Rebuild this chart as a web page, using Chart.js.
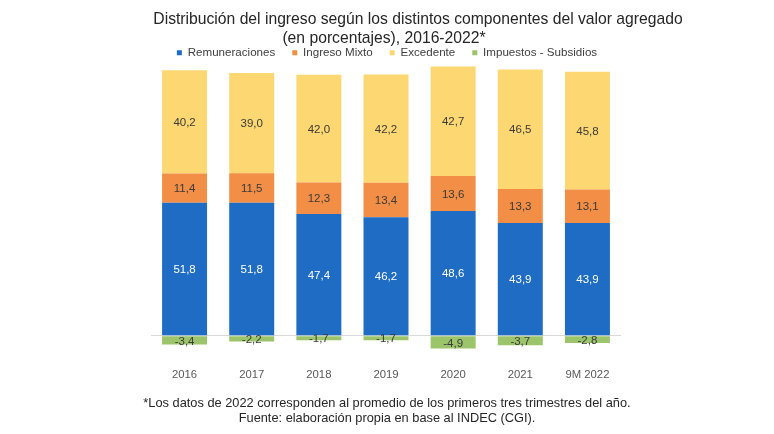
<!DOCTYPE html>
<html>
<head>
<meta charset="utf-8">
<script src="https://cdn.jsdelivr.net/npm/chart.js@4"></script>
<style>
  html, body { margin: 0; padding: 0; background: #fff; }
  #wrap { width: 774px; height: 434px; }
</style>
</head>
<body>
<div id="wrap"><canvas id="grafica"></canvas></div>
<script>
const anios = ["2016", "2017", "2018", "2019", "2020", "2021", "9M 2022"];
const remuneraciones = [51.8, 51.8, 47.4, 46.2, 48.6, 43.9, 43.9];
const ingresoMixto = [11.4, 11.5, 12.3, 13.4, 13.6, 13.3, 13.1];
const excedente = [40.2, 39.0, 42.0, 42.2, 42.7, 46.5, 45.8];
const impuestos = [-3.4, -2.2, -1.7, -1.7, -4.9, -3.7, -2.8];

const titulo1 = "Distribución del ingreso según los distintos componentes del valor agregado";
const titulo2 = "(en porcentajes), 2016-2022*";

const fuente = "'Liberation Sans', Arial, sans-serif";

// título (las dos líneas no están centradas igual en el original) y etiquetas de valor
const etiquetasValor = {
    id: "etiquetasValor",
    beforeUpdate(chart) {
        // la leyenda deja mucho aire debajo, recortarlo
        const leyenda = chart.legend;
        if (leyenda && !leyenda._ajustada) {
            const fitOriginal = leyenda.fit.bind(leyenda);
            leyenda.fit = function () {
                fitOriginal();
                this.height -= 5;
            };
            leyenda._ajustada = true;
        }
    },
    afterDraw(chart) {
        const ctx = chart.ctx;
        const mitad = chart.width / 2;
        ctx.save();
        ctx.fillStyle = "#262626";
        ctx.font = `15.7px ${fuente}`;
        ctx.textAlign = "center";
        ctx.textBaseline = "middle";
        ctx.fillText(titulo1, mitad + 31, 20);
        ctx.fillText(titulo2, mitad - 3, 39);
        ctx.restore();
    },
    afterDatasetsDraw(chart) {
        const ctx = chart.ctx;
        ctx.save();
        ctx.font = `11.5px ${fuente}`;
        ctx.textAlign = "center";
        ctx.textBaseline = "middle";
        chart.data.datasets.forEach((ds, i) => {
            const meta = chart.getDatasetMeta(i);
            meta.data.forEach((bar, j) => {
                const v = ds.data[j];
                const y = (bar.y + bar.base) / 2;
                ctx.fillStyle = ds.colorTexto;
                ctx.fillText(v.toFixed(1).replace(".", ","), bar.x, y + 1);
            });
        });
        ctx.restore();
    },
};

new Chart(document.getElementById("grafica"), {
    type: "bar",
    data: {
        labels: anios,
        datasets: [
            { label: "Remuneraciones", data: remuneraciones, backgroundColor: "#1f6cc4", colorTexto: "#ffffff" },
            { label: "Ingreso Mixto", data: ingresoMixto, backgroundColor: "#f28e45", colorTexto: "#3a3a3a" },
            { label: "Excedente", data: excedente, backgroundColor: "#fdd772", colorTexto: "#3a3a3a" },
            { label: "Impuestos - Subsidios", data: impuestos, backgroundColor: "#9cc46b", colorTexto: "#3a3a3a" },
        ],
    },
    options: {
        responsive: true,
        maintainAspectRatio: false,
        animation: false,
        datasets: { bar: { categoryPercentage: 1, barPercentage: 0.67 } },
        layout: { padding: { top: 30, left: 0, right: 0, bottom: 0 } },
        plugins: {
            title: { display: false },
            subtitle: {
                display: true,
                position: "bottom",
                text: [
                    "*Los datos de 2022 corresponden al promedio de los primeros tres trimestres del año.",
                    "Fuente: elaboración propia en base al INDEC (CGI).",
                ],
                color: "#262626",
                font: { family: fuente, size: 12.8, lineHeight: 1.18 },
                padding: { top: 5, bottom: 8 },
            },
            legend: {
                labels: {
                    color: "#404040",
                    font: { family: fuente, size: 11.6 },
                    boxWidth: 5,
                    boxHeight: 5,
                    padding: 17,
                },
            },
            tooltip: { enabled: false },
        },
        scales: {
            x: {
                stacked: true,
                grid: { display: false },
                border: { display: false },
                ticks: { color: "#595959", font: { family: fuente, size: 11.3 }, padding: 9 },
            },
            y: {
                stacked: true,
                min: -6,
                max: 106,
                afterFit: (s) => { s.width = 151; },
                ticks: { display: false, stepSize: 2 },
                border: { display: false },
                grid: {
                    drawTicks: false,
                    color: (c) => (c.tick && c.tick.value === 0 ? "#d9d9d9" : "transparent"),
                },
            },
            derecha: {
                position: "right",
                afterFit: (s) => { s.width = 153; },
                ticks: { display: false },
                border: { display: false },
                grid: { display: false },
            },
        },
    },
    plugins: [etiquetasValor],
});
</script>
</body>
</html>
